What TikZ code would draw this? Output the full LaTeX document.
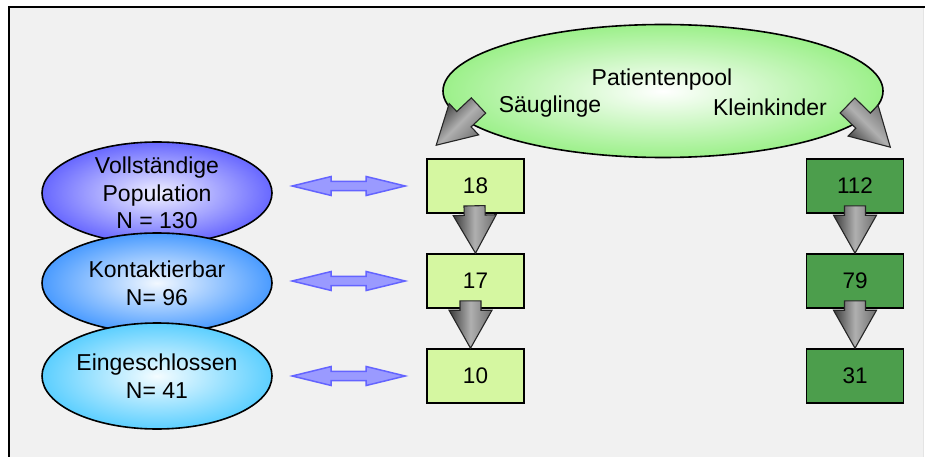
\documentclass[tikz,border=0pt]{standalone}
\usepackage{fontspec}
\setmainfont{Liberation Sans}
\usetikzlibrary{calc,shapes.geometric}

\definecolor{panelgray}{HTML}{F1F1F1}
\definecolor{paneledge}{HTML}{E4E4E4}
\definecolor{lightbox}{HTML}{D5F7A1}
\definecolor{darkbox}{HTML}{4C9E4C}
\definecolor{linkfill}{HTML}{9A9AFF}
\definecolor{linkdraw}{HTML}{6464FF}
\definecolor{popout}{HTML}{6868FF}
\definecolor{popin}{HTML}{F0F0FF}
\definecolor{konout}{HTML}{4A9BFF}
\definecolor{konin}{HTML}{F2F8FF}
\definecolor{einout}{HTML}{5CCFFF}
\definecolor{einin}{HTML}{F4FCFF}
\definecolor{poolout}{HTML}{9CF08A}
\definecolor{arrdark}{HTML}{3A3A3A}
\definecolor{arrlight}{HTML}{B0B0B0}
\definecolor{arrmid}{HTML}{6E6E6E}

\tikzset{
  bigtext/.style={font=\fontsize{23}{27.6}\selectfont, align=center},
  grouping/.style={ellipse, draw=black, line width=1.6pt, inner sep=0pt,
    minimum width=230pt, bigtext},
  countbox/.style={rectangle, draw=black, line width=1.6pt, inner sep=0pt,
    minimum width=97pt, minimum height=54pt,
    font=\fontsize{22.5}{26}\selectfont},
  linkstyle/.style={fill=linkfill, draw=linkdraw, line width=1.5pt, line join=miter},
  flowstyle/.style={draw=black!85, line width=1.1pt, line join=miter,
    shading=axis, top color=arrdark, bottom color=arrmid, middle color=arrlight},
}

% thick shaded block arrow from tail #1 to tip #2, gradient angle #3
\newcommand\flowarrow[3]{%
  \coordinate (fa-t) at (#1);
  \coordinate (fa-p) at (#2);
  \coordinate (fa-b) at ($(fa-p)!38pt!(fa-t)$);
  \path[flowstyle, shading angle=#3]
    ($(fa-t)!10.5pt!90:(fa-p)$) -- ($(fa-b)!10.5pt!90:(fa-p)$)
    -- ($(fa-b)!21.5pt!90:(fa-p)$) -- (fa-p)
    -- ($(fa-b)!21.5pt!-90:(fa-p)$) -- ($(fa-b)!10.5pt!-90:(fa-p)$)
    -- ($(fa-t)!10.5pt!-90:(fa-p)$) -- cycle;
}

% horizontal double-headed link arrow from left tip #1 to right tip #2
\newcommand\linkarrow[2]{%
  \path[linkstyle] (#1) -- ++(39,-9.5) -- ++(0,4.8)
    -- ($(#2)+(-39,-4.7)$) -- ++(0,-4.8) -- (#2) -- ++(-39,9.5) -- ++(0,-4.8)
    -- ($(#1)+(39,4.7)$) -- ++(0,4.8) -- cycle;
}

\begin{document}
\begin{tikzpicture}[x=1pt,y=-1pt]
\useasboundingbox (0,0) rectangle (925,457);
\fill[white] (0,0) rectangle (925,457);
\fill[panelgray] (9,7) rectangle (923.5,457);
\draw[paneledge, line width=0.8pt] (923.5,7) -- (923.5,457);
\draw[line width=2pt] (9,457) -- (9,7) -- (925,7);

% patient pool
\node[ellipse, draw=black, line width=1.6pt, inner sep=0pt,
      minimum width=440pt, minimum height=133pt,
      inner color=white, outer color=poolout] (pool) at (663,91) {};
\node[bigtext] (pooltitle) at (662,80) {Patientenpool};
\node[bigtext] (sgl) at (550,107) {Säuglinge};
\node[bigtext] (klk) at (770,107) {Kleinkinder};

% population groups
\node[grouping, minimum height=102pt, inner color=popin, outer color=popout]
  (pop) at (157,193) {Vollständige\\Population\\N = 130};
\node[grouping, minimum height=100pt, inner color=konin, outer color=konout]
  (kon) at (157,283) {Kontaktierbar\\N= 96};
\node[grouping, minimum height=106pt, inner color=einin, outer color=einout]
  (ein) at (157,376) {Eingeschlossen\\N= 41};

% counts: infants
\node[countbox, fill=lightbox] (s18) at (475.5,186) {18};
\node[countbox, fill=lightbox] (s17) at (475.5,281) {17};
\node[countbox, fill=lightbox] (s10) at (475.5,376) {10};
% counts: toddlers
\node[countbox, fill=darkbox] (k112) at (855,186) {112};
\node[countbox, fill=darkbox] (k79) at (855,281) {79};
\node[countbox, fill=darkbox] (k31) at (855,376) {31};

% links between groups and counts
\linkarrow{$(s18.west)+(-134,0)$}{$(s18.west)+(-21,0)$}
\linkarrow{$(s17.west)+(-134,0)$}{$(s17.west)+(-21,0)$}
\linkarrow{$(s10.west)+(-134,0)$}{$(s10.west)+(-21,0)$}

% split of the pool
\coordinate (splitL) at ($(pool.center)+(-184.5,14.5)$);
\coordinate (splitR) at ($(pool.center)+(184.5,14.5)$);
\flowarrow{splitL}{$(s18.north west)+(10,-13)$}{45}
\flowarrow{splitR}{$(k112.north east)+(-14,-11)$}{135}

% flow within each column
\flowarrow{$(s18.south)+(-1,-8)$}{s17.north}{90}
\flowarrow{$(s17.south)+(-5,-8)$}{$(s10.north)+(-5,0)$}{90}
\flowarrow{$(k112.south)+(0,-8)$}{k79.north}{90}
\flowarrow{$(k79.south)+(0,-8)$}{k31.north}{90}
\end{tikzpicture}
\end{document}
